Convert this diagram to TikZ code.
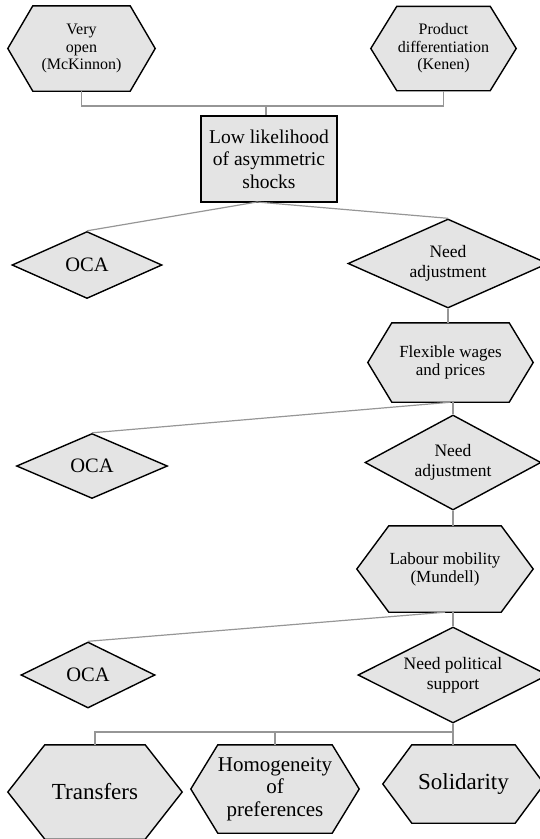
\documentclass[tikz,border=0pt]{standalone}
\usepackage{fontspec}
\setmainfont{Liberation Serif}
\usetikzlibrary{shapes.geometric,backgrounds,calc}
\definecolor{shapefill}{RGB}{228,228,228}
\definecolor{linkgray}{RGB}{150,150,150}
\tikzset{
  shapeline/.style={draw=black, line width=1.4pt, fill=shapefill, line join=miter},
  hexbox/.style={rectangle, inner sep=0pt, align=center, text=black},
  dia/.style={diamond, draw=black, line width=1.4pt, fill=shapefill, inner sep=0pt, align=center},
  boxnode/.style={rectangle, draw=black, line width=1.4pt, fill=shapefill, inner sep=0pt, align=center},
  link/.style={draw=linkgray, line width=1.2pt},
}
\newcommand{\ftsmall}{\fontsize{16}{17.5}\selectfont}
\newcommand{\ftflex}{\fontsize{17}{18}\selectfont}
\newcommand{\ftmid}{\fontsize{17.5}{20}\selectfont}
\newcommand{\ftbox}{\fontsize{19.5}{22.5}\selectfont}
\newcommand{\ftoca}{\fontsize{20.5}{24}\selectfont}
\newcommand{\fthom}{\fontsize{21}{22.5}\selectfont}
\newcommand{\ftbig}{\fontsize{23}{26}\selectfont}
% name, cx, cy, width, height, inset, font, text
\newcommand{\hexnode}[8]{%
  \node[hexbox, minimum width=#4pt, minimum height=#5pt, font={#7}] (#1) at (#2,#3) {#8};
  \begin{scope}[on background layer]
    \path[shapeline] (#1.west) -- ([xshift=#6pt]#1.north west) -- ([xshift=-#6pt]#1.north east)
      -- (#1.east) -- ([xshift=-#6pt]#1.south east) -- ([xshift=#6pt]#1.south west) -- cycle;
  \end{scope}}
\begin{document}
\begin{tikzpicture}[x=1pt,y=-1pt]
\useasboundingbox (0,0) rectangle (539,839);

% top hexagons
\hexnode{A}{81.5}{48.5}{147}{85}{25}{\ftsmall}{Very\\open\\(McKinnon)}
\hexnode{B}{443.5}{48.5}{145}{84}{26}{\ftsmall}{Product\\differentiation\\(Kenen)}

% box
\node[boxnode, minimum width=136pt, minimum height=86pt, font=\ftbox] (box) at (269,159) {Low likelihood\\of asymmetric\\shocks};

% first level
\node[dia, minimum width=150pt, minimum height=67pt, shape aspect=2.2, font=\ftoca] (oca1) at (87,265) {OCA};
\node[dia, minimum width=200pt, minimum height=89pt, shape aspect=2.25, font=\ftmid] (na1) at (448,263.5) {Need\\adjustment};
\hexnode{flex}{450.5}{362.5}{165}{79}{24}{\ftflex}{Flexible wages\\and prices}

% second level
\node[dia, minimum width=151pt, minimum height=65pt, shape aspect=2.3, font=\ftoca] (oca2) at (92,466) {OCA};
\node[dia, minimum width=176pt, minimum height=95pt, shape aspect=1.85, font=\ftmid] (na2) at (453,462.5) {Need\\adjustment};
\hexnode{lab}{445}{569}{176}{86}{32}{\ftflex}{Labour mobility\\(Mundell)}

% third level
\node[dia, minimum width=134pt, minimum height=66pt, shape aspect=2.0, font=\ftoca] (oca3) at (88,675) {OCA};
\node[dia, minimum width=190pt, minimum height=96pt, shape aspect=2.0, font=\ftmid] (np) at (453,675) {Need political\\support};

% bottom hexagons
\hexnode{trans}{95}{792}{174}{94}{37}{\ftbig}{Transfers}
\hexnode{hom}{275}{789}{168}{88}{27}{\fthom}{Homogeneity\\of\\preferences}
\hexnode{sol}{463.5}{784}{161}{78}{29}{\ftbig}{Solidarity}

% connectors
\coordinate (j1) at (266,106);
\draw[link] (A.south) |- (j1) -| (B.south);
\draw[link] (j1) -- (j1 |- box.north);
\coordinate (jb) at (257,202);
\draw[link] (oca1.north) -- (jb) -- (na1.north);
\draw[link] (na1.south) -- (na1.south |- flex.north);
\draw[link] (flex.south) -- (oca2.north);
\draw[link] (na2.north |- flex.south) -- (na2.north);
\draw[link] (na2.south) -- (na2.south |- lab.north);
\draw[link] (lab.south) -- (oca3.north);
\draw[link] (np.north |- lab.south) -- (np.north);
\coordinate (j2) at (453,732);
\draw[link] (np.south) -- (np.south |- sol.north);
\draw[link] (trans.north) |- (j2);
\draw[link] (hom.north) -- (hom.north |- j2);
\end{tikzpicture}
\end{document}
